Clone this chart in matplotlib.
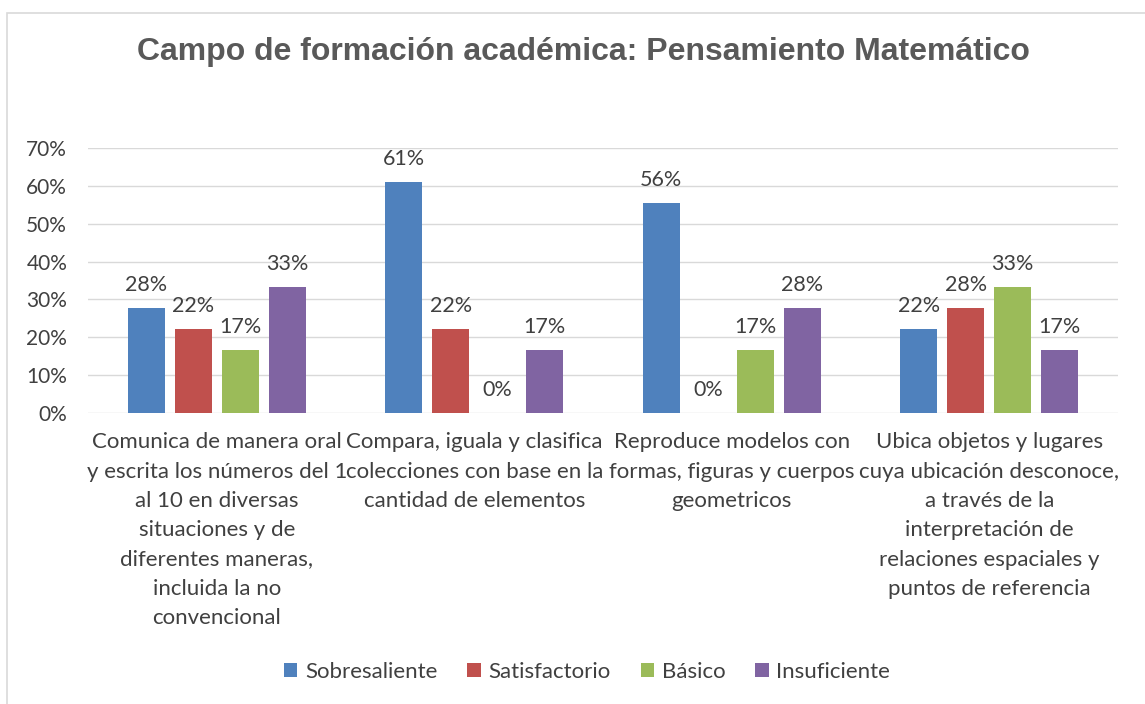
import numpy as np
import matplotlib.pyplot as plt
from matplotlib.patches import Rectangle

# data
categories = [
    "Comunica de manera oral\ny escrita los números del 1\nal 10 en diversas\nsituaciones y de\ndiferentes maneras,\nincluida la no\nconvencional",
    "Compara, iguala y clasifica\ncolecciones con base en la\ncantidad de elementos",
    "Reproduce modelos con\nformas, figuras y cuerpos\ngeometricos",
    "Ubica objetos y lugares\ncuya ubicación desconoce,\na través de la\ninterpretación de\nrelaciones espaciales y\npuntos de referencia",
]
series_names = ["Sobresaliente", "Satisfactorio", "Básico", "Insuficiente"]
sobresaliente = [0.2778, 0.6111, 0.5556, 0.2222]
satisfactorio = [0.2222, 0.2222, 0.0, 0.2778]
basico = [0.1667, 0.0, 0.1667, 0.3333]
insuficiente = [0.3333, 0.1667, 0.2778, 0.1667]
colors = ["#4f81bd", "#c0504d", "#9bbb59", "#8064a2"]

txt = "#404040"
plt.rcParams['font.family'] = ['Lato', 'DejaVu Sans']

fig = plt.figure(figsize=(11.45, 7.04), dpi=100)
# chart border
fig.patches.append(Rectangle((7/1145, -0.01), 1.02, 1 - 13/704 + 0.01, transform=fig.transFigure,
                             fill=False, edgecolor="#d9d9d9", linewidth=1.2))

ax = fig.add_axes([88/1145, 1 - 413/704, 1030/1145, 265/704])

x = np.arange(len(categories))
width = 0.144
step = 0.1825
all_series = [sobresaliente, satisfactorio, basico, insuficiente]
for k, (vals, name, c) in enumerate(zip(all_series, series_names, colors)):
    pos = x + (k - 1.5) * step
    ax.bar(pos, vals, width, color=c, label=name, zorder=3)
    for p, v in zip(pos, vals):
        ax.text(p, v + 0.034, "%d%%" % round(v * 100), ha='center', va='bottom',
                fontsize=15.5, color=txt)

ax.set_xlim(-0.5, 3.5)
ax.set_ylim(0, 0.7)
ax.set_yticks(np.arange(0, 0.71, 0.1))
ax.set_yticklabels(["%d%%" % round(t * 100) for t in np.arange(0, 0.71, 0.1)])
ax.yaxis.grid(True, color="#d9d9d9", linewidth=1, zorder=0)
ax.set_xticks(x)
ax.set_xticklabels(categories, fontsize=16, color=txt, linespacing=1.58, va='top')
ax.tick_params(axis='x', length=0, pad=14)
ax.tick_params(axis='y', length=0, labelsize=15, labelcolor=txt, pad=15)
for s in ax.spines.values():
    s.set_visible(False)

fig.text(583/1145, 1 - 52/704, "Campo de formación académica: Pensamiento Matemático",
         ha='center', va='center', fontsize=23, fontweight='bold', color="#595959",
         family=['Liberation Sans', 'DejaVu Sans'])

leg = fig.legend(loc='center', bbox_to_anchor=(587/1145, 1 - 672/704), ncol=4,
                 frameon=False, fontsize=16, handlelength=0.6, handleheight=0.6,
                 handletextpad=0.35, columnspacing=1.35)
for t in leg.get_texts():
    t.set_color(txt)

fig.savefig("out.png", dpi=100)
